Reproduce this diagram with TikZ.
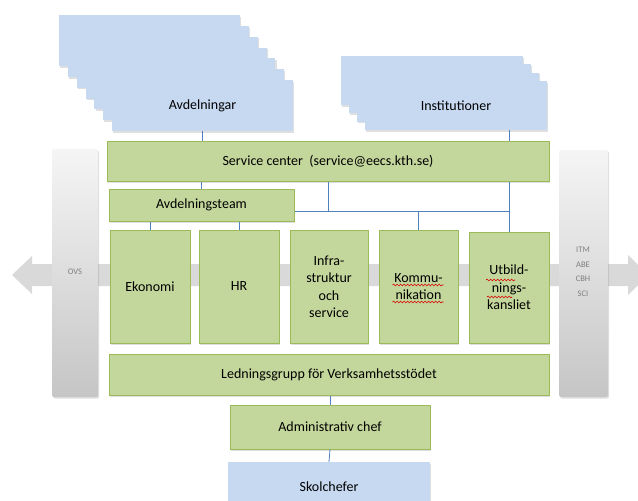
\documentclass[tikz,border=0pt]{standalone}
\usepackage{fontspec}
\setmainfont{Carlito}
\usetikzlibrary{calc,shadows,decorations.pathmorphing}

\definecolor{boxgreen}{HTML}{C3D69B}
\definecolor{edgegreen}{HTML}{9BBB59}
\definecolor{boxblue}{HTML}{C6D9F1}
\definecolor{linkblue}{HTML}{4F81BD}
\definecolor{bandgray}{HTML}{D9D9D9}
\definecolor{bartext}{HTML}{7F7F7F}

\tikzset{
  softshadow/.style={drop shadow={shadow xshift=1.2pt, shadow yshift=-1.5pt, opacity=0.25}},
  greenbox/.style={draw=edgegreen, line width=1pt, fill=boxgreen, softshadow,
    align=center, inner sep=0pt, font=\fontsize{14}{17.5}\selectfont},
  bluebox/.style={fill=boxblue, softshadow, inner sep=0pt,
    font=\fontsize{14}{17.5}\selectfont},
  graybar/.style={top color=gray!8, bottom color=gray!45, rounded corners=2pt,
    softshadow, inner sep=0pt},
  bartxt/.style={text=bartext, align=center, font=\fontsize{8.5}{14.5}\selectfont},
  link/.style={draw=linkblue, line width=0.8pt},
  squiggle/.style={draw=red!85!black, line width=0.6pt, decorate,
    decoration={snake, amplitude=0.9pt, segment length=3.5pt}}
}

\begin{document}
\begin{tikzpicture}[x=1pt, y=-1pt]
    \useasboundingbox (0,0) rectangle (638,501);

    % big arrow behind everything
    \fill[bandgray] (12,275) -- (32,256) -- (32,264) -- (628,264) -- (628,255)
        -- (648,275) -- (628,295) -- (628,286) -- (32,286) -- (32,294) -- cycle;

    \node[graybar, minimum width=46, minimum height=248] (ovsbar) at (75,273) {};
    \node[graybar, minimum width=49, minimum height=247] (schoolbar) at (583.5,273.5) {};
    \node[bartxt] (ovs) at (75,272) {OVS};
    \node[bartxt] (schools) at (583,272) {ITM\\ABE\\CBH\\SCI};

    % stacks
    \foreach \i in {6,5,...,1}
        \fill[boxblue, softshadow] ($(112,80)-(\i*8.8,\i*10.8)$) rectangle +(181,51);
    \node[bluebox, minimum width=181, minimum height=51] (avd) at (202.5,105.5) {Avdelningar};
    \foreach \i in {3,2,1}
        \fill[boxblue, softshadow] ($(365,81)-(\i*8,\i*8.3)$) rectangle +(182,49);
    \node[bluebox, minimum width=182, minimum height=49] (inst) at (456,105.5) {Institutioner};

    \node[greenbox, minimum width=442, minimum height=40] (service) at (328,161)
        {Service center \ (service@eecs.kth.se)};
    \node[greenbox, minimum width=185, minimum height=32] (team) at (201.5,205) {Avdelningsteam};

    \node[greenbox, minimum width=80, minimum height=113] (eko) at (150,286.5) {Ekonomi};
    \node[greenbox, minimum width=80, minimum height=113] (hr) at (239,286.5) {HR};
    \node[greenbox, minimum width=78, minimum height=113] (infra) at (329,286.5)
        {Infra-\\struktur\\och\\service};
    \node[greenbox, minimum width=79, minimum height=113] (komm) at (418.5,286.5)
        {Kommu-\\nikation};
    \node[greenbox, minimum width=80, minimum height=111] (utb) at (509,287.5)
        {Utbild-\\nings-\\kansliet};

    \node[greenbox, minimum width=440, minimum height=41] (ledning) at (329,374.5)
        {Ledningsgrupp för Verksamhetsstödet};
    \node[greenbox, minimum width=200, minimum height=44] (adm) at (330,427) {Administrativ chef};
    \node[bluebox, minimum width=202, minimum height=50] (skol) at (329,487) {Skolchefer};

    \coordinate (bus) at (328,211);

    \draw[link] (avd.south) -- (avd.south |- service.north);
    \draw[link] (utb.north |- inst.south) -- (utb.north |- service.north);
    \draw[link] (team.north) -- (team.north |- service.south);
    \draw[link] (service.south) -- (bus);
    \draw[link] (team.east |- bus) -- (utb.north |- bus);
    \draw[link] (utb.north |- service.south) -- (utb.north);
    \draw[link] (komm.north |- bus) -- (komm.north);
    \draw[link] (eko.north |- team.south) -- (eko.north);
    \draw[link] (hr.north |- team.south) -- (hr.north);
    \draw[link] (adm.north |- ledning.south) -- (adm.north);
    \draw[link] (adm.south) -- (skol.north);

    % spell check marks
    \draw[squiggle] ($(komm.center)+(-26,-1.5)$) -- +(51,0);
    \draw[squiggle] ($(komm.center)+(-26,15.5)$) -- +(51,0);
    \draw[squiggle] ($(utb.center)+(-23,-7.5)$) -- +(29,0);
    \draw[squiggle] ($(utb.center)+(-22,9.5)$) -- +(25,0);
\end{tikzpicture}
\end{document}
